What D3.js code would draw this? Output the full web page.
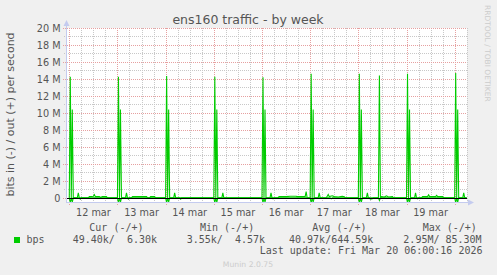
<!DOCTYPE html>
<html>
<head>
<meta charset="utf-8">
<script src="https://cdn.jsdelivr.net/npm/d3@7/dist/d3.min.js"></script>
<style>
body { margin: 0; background: #f0f0f0; }
svg { display: block; }
text { font-family: "DejaVu Sans", sans-serif; }
.mono { font-family: "DejaVu Sans Mono", monospace; white-space: pre; }
</style>
</head>
<body>
<script>
// x labels, one per day (centred at noon)
var dayLabels = ["12 mar", "13 mar", "14 mar", "15 mar", "16 mar", "17 mar", "18 mar", "19 mar"];

var yTicks = [0, 2e6, 4e6, 6e6, 8e6, 10e6, 12e6, 14e6, 16e6, 18e6, 20e6];
var yTickLabels = ["0", "2 M", "4 M", "6 M", "8 M", "10 M", "12 M", "14 M", "16 M", "18 M", "20 M"];

// [hours after 12 mar 00:00, Mbit/s]
var outTraffic = [
    [0, 0], [0.5, 14.27], [1, 0], [1.5, 10.4], [2, 0], [4, 0], [4.5, 0.6], [5, 0],
    [9.5, 0], [10, 0.15], [12, 0.2], [12.5, 0.38], [13, 0.15], [15, 0.15], [15.5, 0.05], [16.5, 0.15], [18.5, 0.15], [19, 0],
    [24, 0], [24.5, 14.27], [25, 0], [25.5, 10.4], [26, 0], [28, 0], [28.5, 0.6], [29, 0],
    [31, 0], [31.5, 0.15], [38.5, 0.15], [39, 0], [40, 0], [40.5, 0.15], [42.5, 0.15], [43, 0],
    [48, 0], [48.5, 14.35], [49, 0], [49.5, 10.4], [50, 0], [52, 0], [52.5, 0.6], [53, 0],
    [72, 0], [72.5, 14.27], [73, 0], [73.5, 10.4], [74, 0], [76, 0], [76.5, 0.6], [77, 0],
    [96, 0], [96.5, 14.2], [97, 0], [97.5, 10.4], [98, 0], [100, 0], [100.5, 0.6], [101, 0],
    [104, 0], [104.5, 0.15], [108, 0.15], [110, 0.2], [113, 0.2], [113.5, 0.15], [117.5, 0.15], [118, 0.75], [118.5, 0],
    [120, 0], [120.5, 14.6], [121, 0], [121.5, 10.4], [122, 0], [124, 0], [124.5, 0.6], [125, 0],
    [128, 0], [128.5, 0.2], [129, 0.4], [129.5, 0.15], [131, 0.25], [132, 0.15], [134, 0.1], [136, 0.2], [137, 0.15], [137.5, 0],
    [144, 0], [144.5, 14.6], [145, 0], [145.5, 10.4], [146, 0], [148, 0], [148.5, 0.6], [149, 0],
    [154, 0], [154.5, 14.4], [155, 0], [155.5, 0.15], [157, 0.1], [158, 0.25], [159, 0.1], [161, 0.15], [161.5, 0],
    [168, 0], [168.5, 14.6], [169, 0], [169.5, 10.4], [170, 0], [172, 0], [172.5, 0.6], [173, 0],
    [175.5, 0], [176, 0.15], [178.5, 0.15], [179, 0.35], [179.5, 0.15], [182.5, 0.15], [183, 0.3], [183.5, 0.15], [186, 0.15], [186.5, 0],
    [192, 0], [192.5, 14.7], [193, 0], [193.5, 10.4], [194, 0], [196, 0], [196.5, 0.6], [197, 0], [198, 0]
];

// incoming traffic, drawn below zero
var inTraffic = [
    [0, 0], [0.5, -0.55], [1, 0], [1.5, -0.5], [2, 0], [5, 0], [5.5, -0.15], [6, 0],
    [24, 0], [24.5, -0.55], [25, 0], [25.5, -0.5], [26, 0], [29, 0], [29.5, -0.15], [30, 0],
    [48, 0], [48.5, -0.55], [49, 0], [49.5, -0.5], [50, 0], [55, 0], [55.5, -0.15], [56, 0],
    [72, 0], [72.5, -0.55], [73, 0], [73.5, -0.5], [74, 0],
    [96, 0], [96.5, -0.55], [97, 0], [97.5, -0.5], [98, 0], [101, 0], [101.5, -0.1], [102, 0],
    [120, 0], [120.5, -0.55], [121, 0], [121.5, -0.5], [122, 0], [130, 0], [130.5, -0.1], [131, 0],
    [144, 0], [144.5, -0.55], [145, 0], [145.5, -0.5], [146, 0], [149.5, 0], [150, -0.15], [151, -0.1], [151.5, 0],
    [154, 0], [154.5, -0.3], [155, 0],
    [168, 0], [168.5, -0.55], [169, 0], [169.5, -0.5], [170, 0], [173, 0], [173.5, -0.1], [174, 0],
    [192, 0], [192.5, -0.55], [193, 0], [193.5, -0.5], [194, 0], [198, 0]
];

var legendHeaders = ["Cur (-/+)", "Min (-/+)", "Avg (-/+)", "Max (-/+)"];
var legendValues = [" 49.40k/  6.30k", "  3.55k/  4.57k", " 40.97k/644.59k", "  2.95M/ 85.30M"];

function muninGraph() {

    this.init = function () {
        var svg = d3.select("body").append("svg")
            .attr("width", 497)
            .attr("height", 275);

        var base = new Date(2026, 2, 12, 0, 0);
        this.toDate = function (h) { return new Date(base.getTime() + h * 3600000); };

        this.x = d3.scaleTime()
            .domain([new Date(2026, 2, 11, 22, 52), new Date(2026, 2, 20, 6, 8)])
            .range([67, 467]);
        this.y = d3.scaleLinear()
            .domain([-0.6e6, 20e6])
            .range([203, 28]);

        this.drawGrid(svg);
        this.drawSeries(svg);
        this.drawAxes(svg);
        this.drawText(svg);
        this.drawLegend(svg);
    };

    this.drawGrid = function (svg) {
        var x = this.x, y = this.y;
        var start = x.domain()[0], end = x.domain()[1];
        var px = function (v) { return Math.round(v) + 0.5; };

        svg.append("rect")
            .attr("x", 67).attr("y", 28)
            .attr("width", 400).attr("height", 175)
            .attr("fill", "#ffffff");

        // minor: every 6 hours, every 1 M
        d3.timeHour.every(6).range(start, end).forEach(function (t) {
            if (t.getHours() === 0) return;
            svg.append("line")
                .attr("x1", px(x(t))).attr("x2", px(x(t)))
                .attr("y1", 28).attr("y2", 203)
                .attr("stroke", "#c8c8c8").attr("stroke-dasharray", "1,1");
        });
        y.ticks(20).forEach(function (v) {
            if (yTicks.indexOf(v) >= 0) return;
            svg.append("line")
                .attr("x1", 64).attr("x2", 467)
                .attr("y1", px(y(v))).attr("y2", px(y(v)))
                .attr("stroke", "#c8c8c8").attr("stroke-dasharray", "1,1");
        });

        // major: days, every 2 M
        d3.timeDay.range(start, end).forEach(function (t) {
            svg.append("line")
                .attr("x1", px(x(t))).attr("x2", px(x(t)))
                .attr("y1", 28).attr("y2", 206)
                .attr("stroke", "#e6a0a0").attr("stroke-dasharray", "1,1");
        });
        yTicks.forEach(function (v) {
            svg.append("line")
                .attr("x1", 63).attr("x2", 467)
                .attr("y1", px(y(v))).attr("y2", px(y(v)))
                .attr("stroke", "#e6a0a0").attr("stroke-dasharray", "1,1");
        });
    };

    this.drawSeries = function (svg) {
        var self = this;
        var line = d3.line()
            .x(function (d) { return self.x(self.toDate(d[0])); })
            .y(function (d) { return self.y(d[1] * 1e6); });

        [inTraffic, outTraffic].forEach(function (series) {
            svg.append("path")
                .datum(series)
                .attr("d", line)
                .attr("fill", "none")
                .attr("stroke", "#00cc00")
                .attr("stroke-width", 1.1);
        });

        svg.append("line")
            .attr("x1", 67).attr("x2", 467)
            .attr("y1", Math.round(self.y(0)) + 0.5).attr("y2", Math.round(self.y(0)) + 0.5)
            .attr("stroke", "#000000");
    };

    this.drawAxes = function (svg) {
        var x = this.x, y = this.y;
        var axisColor = "#c4cbef";

        svg.append("line")
            .attr("x1", 66.5).attr("x2", 66.5).attr("y1", 203).attr("y2", 23)
            .attr("stroke", axisColor);
        svg.append("path")
            .attr("d", "M63.5,26L69.5,26L66.5,20Z")
            .attr("fill", axisColor);
        svg.append("line")
            .attr("x1", 66).attr("x2", 470).attr("y1", 202.5).attr("y2", 202.5)
            .attr("stroke", axisColor);
        svg.append("path")
            .attr("d", "M468,199.5L468,205.5L474,202.5Z")
            .attr("fill", axisColor);

        yTicks.forEach(function (v, i) {
            svg.append("text")
                .attr("x", 60.5).attr("y", y(v) + 3.6)
                .attr("text-anchor", "end")
                .attr("font-size", "9.7px")
                .attr("fill", "#555555")
                .text(yTickLabels[i]);
        });

        var days = d3.timeDay.range(x.domain()[0], x.domain()[1]);
        dayLabels.forEach(function (label, i) {
            svg.append("text")
                .attr("x", x(d3.timeHour.offset(days[i], 12)))
                .attr("y", 216)
                .attr("text-anchor", "middle")
                .attr("font-size", "9.7px")
                .attr("fill", "#555555")
                .text(label);
        });
    };

    this.drawText = function (svg) {
        svg.append("text")
            .attr("x", 248).attr("y", 23.5)
            .attr("text-anchor", "middle")
            .attr("font-size", "12.5px")
            .attr("fill", "#555555")
            .text("ens160 traffic - by week");

        svg.append("text")
            .attr("transform", "translate(14,114.5) rotate(-90)")
            .attr("text-anchor", "middle")
            .attr("font-size", "11px")
            .attr("fill", "#555555")
            .text("bits in (-) / out (+) per second");

        svg.append("text")
            .attr("transform", "translate(485,5) rotate(90)")
            .attr("text-anchor", "start")
            .attr("font-size", "7.5px")
            .attr("fill", "#cccccc")
            .text("RRDTOOL / TOBI OETIKER");

        svg.append("text")
            .attr("x", 248).attr("y", 267)
            .attr("text-anchor", "middle")
            .attr("font-size", "7.7px")
            .attr("fill", "#cccccc")
            .text("Munin 2.0.75");
    };

    this.drawLegend = function (svg) {
        var headerX = [89.3, 200, 312.3, 422.7];
        var valueX = [66.7, 174.7, 283, 391.3];

        legendHeaders.forEach(function (h, i) {
            svg.append("text")
                .attr("class", "mono")
                .attr("x", headerX[i]).attr("y", 231)
                .attr("font-size", "10px")
                .attr("fill", "#555555")
                .text(h);
        });

        svg.append("rect")
            .attr("x", 14).attr("y", 237)
            .attr("width", 6).attr("height", 6)
            .attr("fill", "#00cc00");
        svg.append("text")
            .attr("class", "mono")
            .attr("x", 26.5).attr("y", 242.5)
            .attr("font-size", "10px")
            .attr("fill", "#555555")
            .text("bps");

        legendValues.forEach(function (v, i) {
            svg.append("text")
                .attr("class", "mono")
                .attr("xml:space", "preserve")
                .attr("x", valueX[i]).attr("y", 242.5)
                .attr("font-size", "10px")
                .attr("fill", "#555555")
                .text(v);
        });

        svg.append("text")
            .attr("class", "mono")
            .attr("x", 482.5).attr("y", 253.5)
            .attr("text-anchor", "end")
            .attr("font-size", "10px")
            .attr("fill", "#555555")
            .text("Last update: Fri Mar 20 06:00:16 2026");
    };
}

window.onload = function () {
    new muninGraph().init();
};
</script>
</body>
</html>
